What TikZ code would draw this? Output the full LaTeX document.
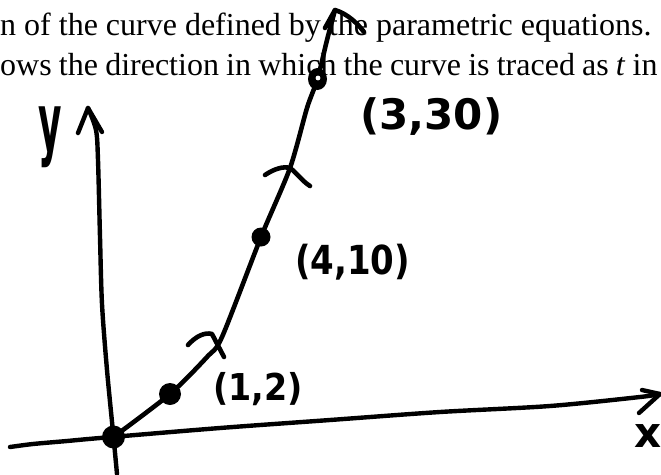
\documentclass[tikz,border=0pt]{standalone}
\usepackage{fontspec}
\setmainfont{Liberation Serif}
\newfontfamily\handfont{DejaVu Sans}
\begin{document}
\begin{tikzpicture}[x=1pt,y=-1pt,line cap=round,line join=round,
  ink/.style={line width=4.6pt},
  axis/.style={line width=4.4pt},
  body/.style={font=\fontsize{32}{38}\selectfont,inner sep=0pt,anchor=base west},
  hand/.style={font=\handfont\bfseries,inner sep=0pt,anchor=base west}]
\useasboundingbox (0,0) rectangle (661,474);
% printed text (under the sketch)
\node[body] (l1) at (0,35) {n of the curve defined by the parametric equations.};
\node[body] (l2) at (0,75) {\spaceskip=0.225em ows the direction in which the curve is traced as \textit{t} in};
% coordinates
\coordinate (o) at (113.5,437);
\coordinate (p12) at (170,394);
\coordinate (p410) at (261,237);
\coordinate (p330) at (317.5,79);
\coordinate (ctip) at (335,10);
\coordinate (c1) at (207,357);
\coordinate (c2) at (222,337);
\coordinate (c3) at (290,168);
\coordinate (c4) at (307,108);
\coordinate (c5) at (327,40);
\coordinate (ytip) at (88,108);
\coordinate (ybot) at (117,474);
\coordinate (xtip) at (660,394);
\coordinate (xleft) at (10,447);
% axes
\draw[axis] plot[smooth,tension=0.5] coordinates {(ybot) (o) (107,370) (102,304) (100,237) (98,160) (96,130) (ytip)};
\draw[axis] (78,133) -- (ytip) -- (102,132);
\draw[axis] plot[smooth,tension=0.5] coordinates {(xleft) (33,444) (67,441) (100,438) (220,428) (330,420) (440,412) (550,406) (640,397) (xtip)};
\draw[axis] (642,390) -- (xtip) -- (639,413);
% curve
\draw[ink] plot[smooth,tension=0.45] coordinates {(o) (p12) (c1) (c2) (p410) (c3) (c4) (p330) (c5) (ctip)};
\draw[ink] (325,28) -- (ctip) .. controls (348,14) and (358,24) .. (364,32);
% direction marks
\draw[ink] (188,345) .. controls (196,336) and (205,332) .. (212,334) -- (224,357);
\draw[ink] (265,175) .. controls (274,169) and (283,166) .. (290,168) .. controls (297,173) and (302,181) .. (310,186);
% points
\fill (o) circle (11.5);
\fill (p12) circle (11);
\fill (p410) circle (9.5);
\fill (p330) ellipse (9.5 and 11);
\fill[white] (318,78) circle (2.4);
% labels
\node[hand,font=\handfont\bfseries\fontsize{42}{42}\selectfont] (t330) at (360,129) {(3,30)};
\node[hand] (t410) at (295,274) {\fontsize{40}{40}\selectfont\scalebox{0.85}[1]{(4,10)}};
\node[hand] (t12) at (213,400) {\fontsize{37}{37}\selectfont\scalebox{0.9}[1]{(1,2)}};
\node[hand,font=\handfont\bfseries\fontsize{42}{42}\selectfont] (tx) at (634,447) {x};
\node[hand] (ty) at (38,150) {\fontsize{80}{80}\selectfont\scalebox{0.45}[1]{y}};
\end{tikzpicture}
\end{document}
